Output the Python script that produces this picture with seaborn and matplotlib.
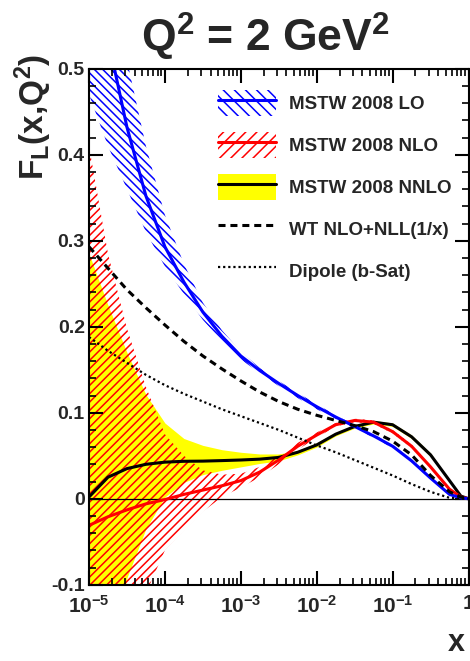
import numpy as np
import pandas as pd
import seaborn as sns
import matplotlib.pyplot as plt
from matplotlib.patches import Patch
from matplotlib.lines import Line2D
from matplotlib.ticker import MultipleLocator, LogLocator, NullFormatter

# x grid (log10 x) shared by all curves
log_x = [-5, -4.75, -4.5, -4.25, -4, -3.75, -3.5, -3.25, -3, -2.75, -2.5,
         -2.25, -2, -1.75, -1.5, -1.25, -1, -0.75, -0.5, -0.25, -0.1, 0]

# MSTW 2008 LO
lo_central = [0.64, 0.535, 0.432, 0.352, 0.293, 0.252, 0.217, 0.189, 0.166, 0.149, 0.134,
              0.120, 0.107, 0.095, 0.084, 0.073, 0.061, 0.044, 0.024, 0.005, 0.001, 0.0]
lo_low = [0.47, 0.41, 0.36, 0.31, 0.27, 0.238, 0.208, 0.183, 0.162, 0.146, 0.131,
          0.117, 0.104, 0.093, 0.082, 0.071, 0.059, 0.043, 0.023, 0.004, 0.001, 0.0]
lo_high = [0.82, 0.66, 0.51, 0.41, 0.33, 0.273, 0.228, 0.196, 0.171, 0.152, 0.137,
           0.123, 0.110, 0.097, 0.086, 0.075, 0.063, 0.045, 0.025, 0.006, 0.001, 0.0]

# MSTW 2008 NLO
nlo_central = [-0.031, -0.021, -0.013, -0.006, -0.001, 0.005, 0.010, 0.015, 0.021, 0.031, 0.045,
               0.061, 0.074, 0.086, 0.091, 0.089, 0.078, 0.061, 0.037, 0.011, 0.002, 0.0]
nlo_low = [-0.42, -0.30, -0.20, -0.11, -0.06, -0.037, -0.015, 0.002, 0.013, 0.025, 0.040,
           0.057, 0.071, 0.084, 0.089, 0.087, 0.076, 0.059, 0.036, 0.010, 0.002, 0.0]
nlo_high = [0.41, 0.285, 0.198, 0.13, 0.075, 0.050, 0.033, 0.028, 0.029, 0.037, 0.050,
            0.065, 0.077, 0.088, 0.093, 0.091, 0.080, 0.063, 0.038, 0.012, 0.002, 0.0]

# MSTW 2008 NNLO
nnlo_central = [0.002, 0.025, 0.035, 0.040, 0.0425, 0.0435, 0.0437, 0.0443, 0.045, 0.046, 0.048,
                0.054, 0.0625, 0.075, 0.084, 0.089, 0.086, 0.072, 0.051, 0.021, 0.003, 0.0]
nnlo_low = [-0.35, -0.20, -0.092, -0.035, 0.002, 0.019, 0.028, 0.033, 0.037, 0.041, 0.044,
            0.051, 0.060, 0.073, 0.082, 0.087, 0.084, 0.070, 0.049, 0.020, 0.003, 0.0]
nnlo_high = [0.285, 0.225, 0.170, 0.121, 0.088, 0.070, 0.062, 0.057, 0.054, 0.052, 0.052,
             0.056, 0.065, 0.077, 0.086, 0.091, 0.088, 0.074, 0.053, 0.022, 0.003, 0.0]

# WT NLO+NLL(1/x) and dipole (b-Sat)
wt = [0.293, 0.268, 0.243, 0.222, 0.202, 0.183, 0.166, 0.151, 0.137, 0.124, 0.113,
      0.104, 0.097, 0.091, 0.085, 0.078, 0.067, 0.051, 0.027, 0.008, 0.002, 0.0]
dipole = [0.188, 0.172, 0.158, 0.144, 0.132, 0.122, 0.113, 0.104, 0.096, 0.088, 0.080,
          0.071, 0.062, 0.054, 0.045, 0.036, 0.027, 0.017, 0.008, 0.001, 0.0, 0.0]

x_ticks = [1e-5, 1e-4, 1e-3, 1e-2, 1e-1, 1]
x_tick_labels = ['$10^{-5}$', '$10^{-4}$', '$10^{-3}$', '$10^{-2}$', '$10^{-1}$', '1']
y_ticks = [-0.1, 0, 0.1, 0.2, 0.3, 0.4, 0.5]
y_tick_labels = ['-0.1', '0', '0.1', '0.2', '0.3', '0.4', '0.5']

legend_labels = ['MSTW 2008 LO', 'MSTW 2008 NLO', 'MSTW 2008 NNLO',
                 'WT NLO+NLL(1/x)', 'Dipole (b-Sat)']

x = np.power(10.0, log_x)
df = pd.DataFrame({'x': x, 'lo': lo_central, 'nlo': nlo_central, 'nnlo': nnlo_central,
                   'wt': wt, 'dipole': dipole})

sns.set_theme(style='ticks')
plt.rcParams.update({
    'font.family': ['Liberation Sans', 'DejaVu Sans'],
    'font.weight': 'bold',
    'mathtext.fontset': 'custom',
    'mathtext.rm': 'Liberation Sans:bold',
    'mathtext.bf': 'Liberation Sans:bold',
    'mathtext.it': 'Liberation Sans:bold',
    'mathtext.default': 'regular',
    'hatch.linewidth': 1.1,
    'axes.linewidth': 1.5,
    'axes.edgecolor': 'black',
    'axes.axisbelow': False,
})

fig = plt.figure(figsize=(4.70, 6.61), dpi=100)
ax = fig.add_axes([89 / 470, 1 - 584.7 / 661, (468.5 - 89) / 470, (584.7 - 68.7) / 661])
ax.set_xscale('log')

BLUE, RED, YELLOW = '#0000ff', '#ff0000', '#ffff00'

# uncertainty bands
ax.fill_between(x, nnlo_low, nnlo_high, color=YELLOW, lw=0, zorder=1)
ax.fill_between(x, nlo_low, nlo_high, facecolor='none', edgecolor=RED, hatch='////', lw=0, zorder=2)
ax.fill_between(x, lo_low, lo_high, facecolor='none', edgecolor=BLUE, hatch='\\\\\\\\', lw=0, zorder=2)
ax.axhline(0, color='black', lw=0.9, zorder=2.5)

# central curves
sns.lineplot(data=df, x='x', y='nnlo', color='black', lw=2.2, ax=ax, zorder=3)
sns.lineplot(data=df, x='x', y='nlo', color=RED, lw=2.2, ax=ax, zorder=3)
sns.lineplot(data=df, x='x', y='lo', color=BLUE, lw=2.2, ax=ax, zorder=3)
sns.lineplot(data=df, x='x', y='wt', color='black', lw=2.2, ax=ax, zorder=3,
             linestyle=(0, (2.3, 1.6)))
sns.lineplot(data=df, x='x', y='dipole', color='black', lw=1.6, ax=ax, zorder=3,
             linestyle=(0, (1, 1.3)))

ax.set_xlim(1e-5, 1)
ax.set_ylim(-0.1, 0.5)

ax.set_xticks(x_ticks, labels=x_tick_labels)
ax.xaxis.set_minor_locator(LogLocator(base=10, subs=np.arange(2, 10), numticks=20))
ax.xaxis.set_minor_formatter(NullFormatter())
ax.set_yticks(y_ticks, labels=y_tick_labels)
ax.yaxis.set_minor_locator(MultipleLocator(0.02))
ax.set_axisbelow(False)
ax.tick_params(which='both', direction='in', top=True, right=True, bottom=True, left=True,
               color='black', zorder=6)
ax.tick_params(which='major', length=10, width=1.5)
ax.tick_params(which='minor', length=5, width=1.2)
ax.tick_params(axis='x', which='major', labelsize=15, pad=7)
ax.tick_params(axis='y', which='major', labelsize=14, pad=3)
for spine in ax.spines.values():
    spine.set_zorder(5)

ax.set_xlabel('x', fontsize=22, fontweight='bold')
ax.xaxis.set_label_coords(0.99, -0.128)
ax.xaxis.label.set_ha('right')
ax.xaxis.label.set_va('baseline')
ax.set_ylabel(r'F$_L$(x,Q$^2$)', fontsize=24, fontweight='bold', loc='top')
ax.yaxis.set_label_coords(-0.092, 1.03)

fig.text(265 / 470, 1 - 52 / 661, r'Q$^2$ = 2 GeV$^2$', ha='center', va='baseline',
         fontsize=32, fontweight='bold')

handles = [
    (Patch(facecolor='none', edgecolor=BLUE, hatch='\\\\\\', lw=0), Line2D([], [], color=BLUE, lw=2.2)),
    (Patch(facecolor='none', edgecolor=RED, hatch='///', lw=0), Line2D([], [], color=RED, lw=2.2)),
    (Patch(facecolor=YELLOW, lw=0), Line2D([], [], color='black', lw=2.2)),
    Line2D([], [], color='black', lw=2.2, linestyle=(0, (2.3, 1.6))),
    Line2D([], [], color='black', lw=1.6, linestyle=(0, (1, 1.3))),
]
ax.legend(handles, legend_labels, loc='upper left', bbox_to_anchor=(0.339, 0.9587),
          frameon=False, borderpad=0, borderaxespad=0, handlelength=3.1, handleheight=1.76,
          labelspacing=0.85, handletextpad=0.7, prop={'size': 13.5, 'weight': 'bold'})

fig.savefig('out.png', dpi=100)
